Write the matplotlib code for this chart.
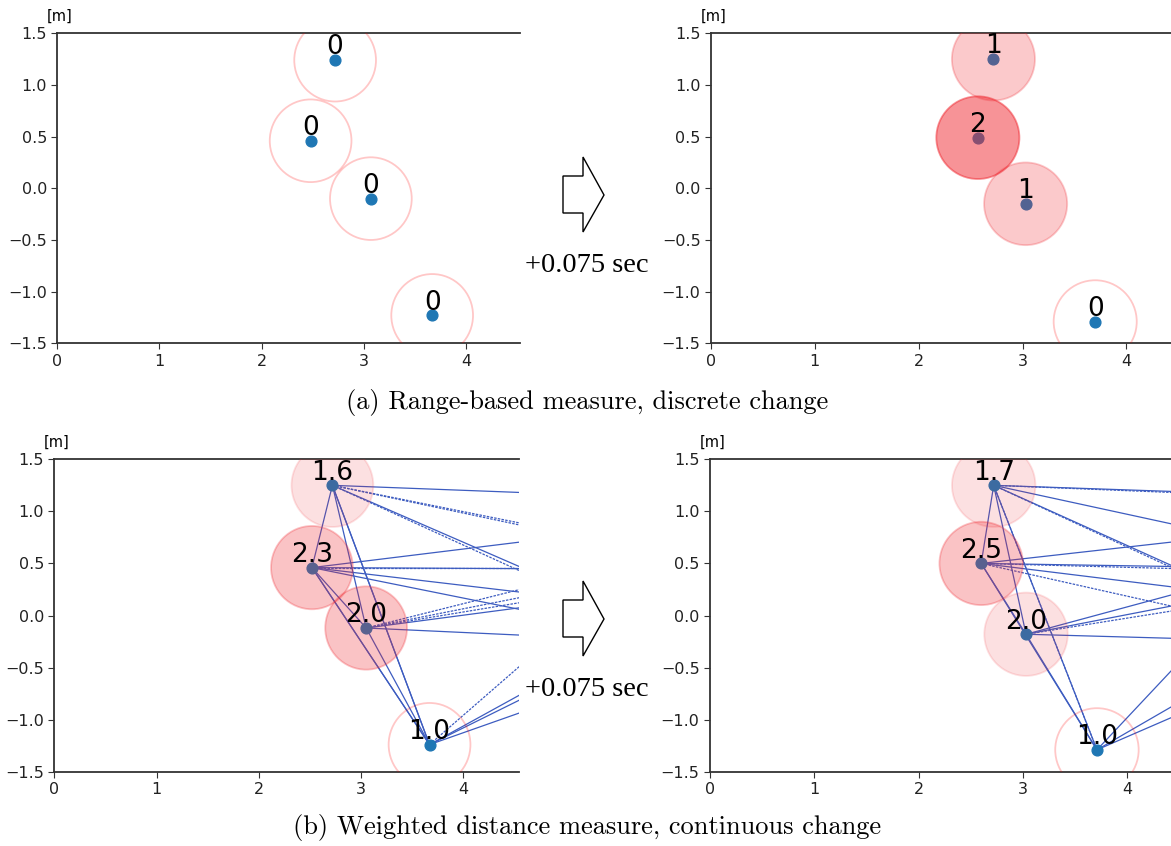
import numpy as np
import matplotlib
matplotlib.use('Agg')
import matplotlib.pyplot as plt
from matplotlib.patches import Circle, Polygon

# robot positions [m] and labels
# (a) range-based measure
a0_x = [2.72, 2.48, 3.07, 3.67]
a0_y = [1.24, 0.46, -0.10, -1.23]
a0_lab = ['0', '0', '0', '0']
a0_lvl = [0, 0, 0, 0]

a1_x = [2.72, 2.57, 3.03, 3.70]
a1_y = [1.25, 0.49, -0.15, -1.29]
a1_lab = ['1', '2', '1', '0']
a1_lvl = [1, 2, 1, 0]

# (b) weighted distance measure
b0_x = [2.72, 2.52, 3.05, 3.67]
b0_y = [1.25, 0.46, -0.12, -1.24]
b0_lab = ['1.6', '2.3', '2.0', '1.0']
b0_lvl = [1, 2, 2, 0]

b1_x = [2.72, 2.60, 3.03, 3.71]
b1_y = [1.25, 0.50, -0.18, -1.29]
b1_lab = ['1.7', '2.5', '2.0', '1.0']
b1_lvl = [1, 2, 1, 0]

# links between visible robots: (i, j, dashed)
b0_pairs = [(0, 1, 0), (0, 2, 0), (0, 3, 0), (0, 3, 0), (1, 2, 0),
            (1, 3, 0), (1, 3, 0), (2, 3, 0)]
b1_pairs = [(0, 1, 0), (0, 2, 0), (0, 3, 1), (0, 3, 0), (1, 2, 0),
            (1, 3, 0), (2, 3, 0)]

# links to robots outside the view: (i, y at right border, dashed)
b0_out = [(0, 1.18, 0), (0, 0.88, 1), (0, 0.86, 1), (0, 0.45, 0), (0, 0.41, 1),
          (1, 0.71, 0), (1, 0.46, 1), (1, 0.45, 0), (1, 0.22, 0), (1, 0.05, 0),
          (2, 0.26, 1), (2, 0.18, 1), (2, 0.13, 1), (2, 0.08, 0), (2, -0.19, 0),
          (3, -0.45, 1), (3, -0.74, 0), (3, -0.79, 0), (3, -0.92, 0)]
b1_out = [(0, 1.19, 0), (0, 1.18, 1), (0, 0.87, 0), (0, 0.46, 0), (0, 0.44, 1),
          (1, 0.71, 0), (1, 0.47, 0), (1, 0.45, 1), (1, 0.27, 0), (1, 0.08, 1),
          (2, 0.21, 0), (2, 0.10, 0), (2, 0.05, 1), (2, -0.22, 0),
          (3, -0.48, 0), (3, -0.85, 0), (3, -0.96, 0)]

R = 0.4
LINE_C = '#3d5cc0'

W, H = 1171, 846
fig = plt.figure(figsize=(W / 100, H / 100), dpi=100)


def px_ax(l, r, t, b):
    return fig.add_axes([l / W, 1 - b / H, (r - l) / W, (b - t) / H])


def panel(ax, xs, ys, labs, lvls, xmax, step, pairs=(), out=()):
    ax.set_xlim(0, xmax)
    ax.set_ylim(-1.5, 1.5)
    for s in ['left', 'top', 'bottom']:
        ax.spines[s].set_color('#333333')
        ax.spines[s].set_linewidth(1.3)
    ax.spines['right'].set_visible(False)
    ax.set_xticks([0, 1, 2, 3, 4])
    ax.set_yticks([-1.5, -1.0, -0.5, 0.0, 0.5, 1.0, 1.5])
    ax.tick_params(labelsize=11.5, length=4, color='#333333', labelcolor='#222222')
    ax.text(0.005, 1.055, '[m]', transform=ax.transAxes, ha='center',
            va='center', fontsize=10.5)

    for i, j, d in pairs:
        ax.plot([xs[i], xs[j]], [ys[i], ys[j]], color=LINE_C, lw=0.9,
                ls=(0, (2, 1)) if d else '-', zorder=2)
    for i, yo, d in out:
        ax.plot([xs[i], xmax + 0.05], [ys[i], yo], color=LINE_C, lw=0.9,
                ls=(0, (2, 1)) if d else '-', zorder=2)

    ax.scatter(xs, ys, s=60, color='#1f77b4', zorder=3)
    for x, y, lv in zip(xs, ys, lvls):
        if lv == 0:
            c = Circle((x, y), R, facecolor='none', edgecolor='red',
                       alpha=0.22, lw=1.3, zorder=4)
        else:
            c = Circle((x, y), R, facecolor='#f02830', edgecolor='#f02830',
                       alpha=step * lv, lw=1.3, zorder=4)
        ax.add_patch(c)
    for x, y, t in zip(xs, ys, labs):
        ax.text(x, y + 0.055, t, ha='center', va='baseline', fontsize=19,
                zorder=5)


ax = px_ax(57.3, 520, 33.3, 343.3)
panel(ax, a0_x, a0_y, a0_lab, a0_lvl, 4.53, 0.25)
ax = px_ax(711, 1171, 33.3, 343.3)
panel(ax, a1_x, a1_y, a1_lab, a1_lvl, 4.43, 0.25)
ax = px_ax(54.3, 519, 459.3, 771.7)
panel(ax, b0_x, b0_y, b0_lab, b0_lvl, 4.545, 0.14, b0_pairs, b0_out)
ax = px_ax(710, 1171, 459.3, 771.7)
panel(ax, b1_x, b1_y, b1_lab, b1_lvl, 4.42, 0.14, b1_pairs, b1_out)

# block arrows and time step
for dy in [0, 424]:
    pts = [(563, 176), (583, 176), (583, 157), (604, 195), (583, 232),
           (583, 213), (563, 213)]
    pts = [(x / W, 1 - (y + dy) / H) for x, y in pts]
    fig.add_artist(Polygon(pts, closed=True, facecolor='white',
                           edgecolor='black', lw=1.0,
                           transform=fig.transFigure))
    fig.text(587 / W, 1 - (265 + dy) / H, '+0.075 sec', ha='center',
             va='center', fontsize=20.5, family='Liberation Serif')

fig.text(587 / W, 1 - 403 / H, '(a) Range-based measure, discrete change',
         ha='center', va='center', fontsize=19, family='cmr10')
fig.text(587 / W, 1 - 827 / H,
         '(b) Weighted distance measure, continuous change',
         ha='center', va='center', fontsize=19, family='cmr10')

fig.savefig('out.png', dpi=100)
